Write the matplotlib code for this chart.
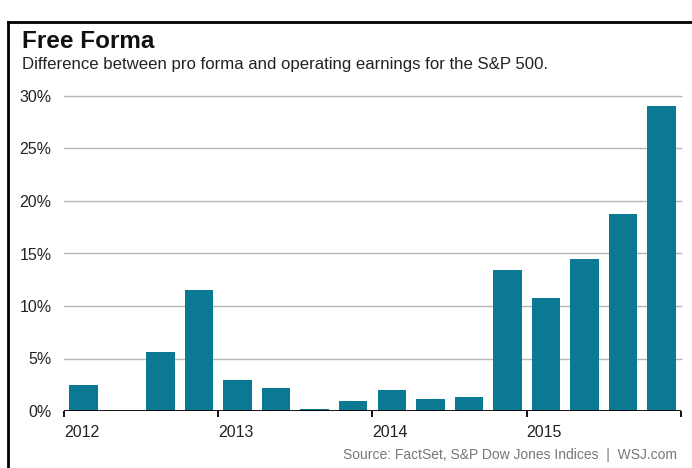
import numpy as np
import matplotlib.pyplot as plt

plt.rcParams['font.family'] = ['Liberation Sans', 'DejaVu Sans']

# quarterly values, 2012 Q1 .. 2015 Q4 (percent)
quarters = ['2012Q1', '2012Q2', '2012Q3', '2012Q4',
            '2013Q1', '2013Q2', '2013Q3', '2013Q4',
            '2014Q1', '2014Q2', '2014Q3', '2014Q4',
            '2015Q1', '2015Q2', '2015Q3', '2015Q4']
values = [2.5, 0.0, 5.6, 11.5,
          3.0, 2.2, 0.15, 0.95,
          2.0, 1.1, 1.3, 13.4,
          10.8, 14.5, 18.8, 29.0]
year_labels = ['2012', '2013', '2014', '2015']
y_ticks = [0, 5, 10, 15, 20, 25, 30]

bar_color = '#0b7894'

fig = plt.figure(figsize=(6.92, 4.68), dpi=100)
ax = fig.add_axes([64/692, 1 - 411/468, (681 - 64)/692, (411 - 96)/468])

x = np.arange(len(values)) + 0.5
ax.bar(x, values, width=0.74, color=bar_color, zorder=3)

for v in y_ticks[1:]:
    ax.axhline(v, color='#b5b5b5', lw=1.0, zorder=1, clip_on=False)
ax.axhline(0, color='black', lw=1.3, zorder=4)

ax.set_xlim(0, len(values))
ax.set_ylim(0, 30)
for s in ax.spines.values():
    s.set_visible(False)

ax.set_yticks(y_ticks)
ax.set_yticklabels([f'{v}%' for v in y_ticks], fontsize=11.5, color='#222222')
ax.tick_params(axis='y', length=0, pad=9)

ax.set_xticks([0, 4, 8, 12, 16])
ax.set_xticklabels(year_labels + [''], fontsize=11.5, color='#222222', ha='left')
ax.tick_params(axis='x', length=4, width=1.3, direction='out', pad=6)

# outer frame (left and top black lines)
fig.add_artist(plt.Line2D([8/692, 8/692], [0, 1 - 22/468], color='black', lw=2))
fig.add_artist(plt.Line2D([8/692, 1], [1 - 22/468, 1 - 22/468], color='black', lw=2))

fig.text(22/692, 1 - 41/468, 'Free Forma', fontsize=17.5, fontweight='bold',
         va='center', ha='left', color='#111111')
fig.text(22/692, 1 - 65/468, 'Difference between pro forma and operating earnings for the S&P 500.',
         fontsize=12.1, va='center', ha='left', color='#222222')
fig.text(677/692, 1 - 455/468, 'Source: FactSet, S&P Dow Jones Indices  |  WSJ.com',
         fontsize=10, va='center', ha='right', color='#777777')

fig.savefig('out.png', dpi=100, facecolor='white')
